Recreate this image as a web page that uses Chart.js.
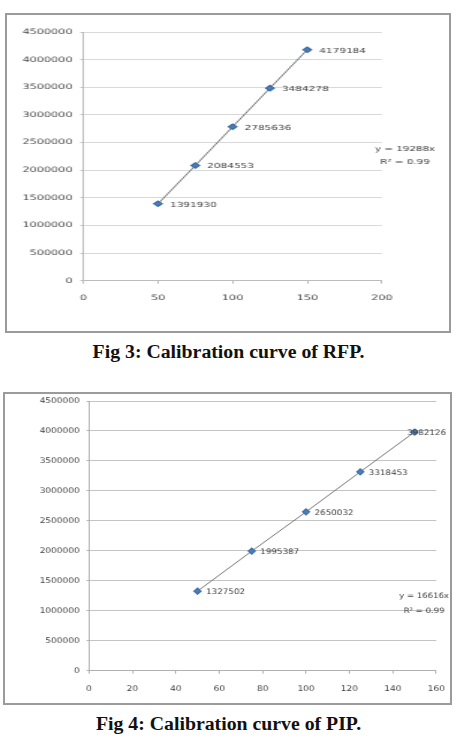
<!DOCTYPE html>
<html>
<head>
<meta charset="utf-8">
<script src="https://cdn.jsdelivr.net/npm/chart.js@4.4.0/dist/chart.umd.min.js"></script>
<style>
body { margin: 0; background: #fff; width: 457px; height: 739px; position: relative; overflow: hidden; }
.box { position: absolute; border: 2px solid #9b9b9b; box-sizing: border-box; }
canvas { position: absolute; left: 0; }
.cap { position: absolute; left: 0; width: 457px; text-align: center; line-height: 20px;
       font: bold 19.8px "Liberation Serif", "Times New Roman", serif; color: #111; }
</style>
</head>
<body>
<div class="box" style="left:5px;top:13px;width:446px;height:320px"></div>
<canvas id="rfpChart" width="305" height="335" style="top:0;width:457px;height:335px"></canvas>
<div class="cap" style="top:340px">Fig 3: Calibration curve of RFP.</div>

<div class="box" style="left:3px;top:392px;width:449px;height:313px"></div>
<canvas id="pipChart" width="397" height="330" style="top:380px;width:457px;height:330px"></canvas>
<div class="cap" style="top:712px">Fig 4: Calibration curve of PIP.</div>

<script>
// concentrations (x) and peak areas (y)
var conc = [50, 75, 100, 125, 150];
var rfpArea = [1391930, 2084553, 2785636, 3484278, 4179184];
var pipArea = [1327502, 1995387, 2650032, 3318453, 3982126];

var rfpXTicks = [0, 50, 100, 150, 200];
var pipXTicks = [0, 20, 40, 60, 80, 100, 120, 140, 160];
var areaTicks = [0, 500000, 1000000, 1500000, 2000000, 2500000, 3000000, 3500000, 4000000, 4500000];

var rfpEq = ['y = 19288x', 'R\u00b2 = 0.99'];
var pipEq = ['y = 16616x', 'R\u00b2 = 0.99'];

var FONT = '"DejaVu Sans", Verdana, sans-serif';

// value labels next to each point + trendline equation
var pointLabels = {
    id: 'pointLabels',
    afterDatasetsDraw: function (chart, args, opts) {
        var ctx = chart.ctx;
        var meta = chart.getDatasetMeta(0);
        var ds = chart.data.datasets[0];
        ctx.save();
        ctx.font = opts.size + 'px ' + FONT;
        ctx.fillStyle = opts.color;
        ctx.textBaseline = 'middle';
        ctx.textAlign = 'left';
        meta.data.forEach(function (pt, i) {
            var txt = String(ds.data[i].y);
            var w = ctx.measureText(txt).width;
            var x = pt.x + opts.dx;
            if (x + w > opts.maxRight)
                x = opts.maxRight - w;
            ctx.fillText(txt, x, pt.y + opts.dy);
        });
        ctx.textAlign = 'center';
        ctx.font = opts.eqSize + 'px ' + FONT;
        opts.eq.forEach(function (line, i) {
            ctx.fillText(line, opts.eqX, opts.eqY + i * opts.eqGap);
        });
        ctx.restore();
    }
};

function buildChart(id, xs, ys, xTicks, cfg) {
    var pts = xs.map(function (x, i) { return { x: x, y: ys[i] }; });
    return new Chart(document.getElementById(id), {
        type: 'scatter',
        data: {
            datasets: [{
                data: pts,
                showLine: true,
                borderColor: '#666',
                borderWidth: 0.9,
                pointStyle: 'rectRot',
                pointRadius: cfg.r,
                pointBorderWidth: 1.2,
                pointBackgroundColor: '#4a7ebb',
                pointBorderColor: '#3c6ca8'
            }]
        },
        options: {
            responsive: false,
            animation: false,
            events: [],
            layout: { padding: cfg.pad },
            plugins: {
                legend: { display: false },
                tooltip: { enabled: false },
                pointLabels: cfg.labels
            },
            scales: {
                x: {
                    type: 'linear',
                    min: xTicks[0],
                    max: xTicks[xTicks.length - 1],
                    afterBuildTicks: function (s) { s.ticks = xTicks.map(function (v) { return { value: v }; }); },
                    afterFit: function (s) { s.height = 30; },
                    grid: { drawOnChartArea: false, tickLength: 3, tickColor: cfg.axisColor },
                    border: { color: cfg.axisColor },
                    ticks: { padding: cfg.xPad, color: cfg.tickColor, font: { family: FONT, size: cfg.tickSize } }
                },
                y: {
                    min: 0,
                    max: 4500000,
                    afterBuildTicks: function (s) { s.ticks = areaTicks.map(function (v) { return { value: v }; }); },
                    afterFit: function (s) { s.width = cfg.yWidth; },
                    grid: { color: cfg.gridColor, tickLength: 2, tickColor: cfg.axisColor },
                    border: { color: cfg.axisColor },
                    ticks: {
                        padding: cfg.yPad, color: cfg.tickColor, font: { family: FONT, size: cfg.tickSize },
                        callback: function (v) { return String(v); }
                    }
                }
            }
        },
        plugins: [pointLabels]
    });
}

buildChart('rfpChart', conc, rfpArea, rfpXTicks, {
    r: 2.7,
    pad: { left: 0, right: 50.1, top: 32, bottom: 24.3 },
    yWidth: 55.6,
    xPad: 9.5,
    yPad: 5.2,
    tickSize: 7.5,
    tickColor: '#4a4a4a',
    axisColor: '#bcbcbc',
    gridColor: '#d9d9d9',
    labels: { size: 7, color: '#3f3f3f', dx: 8, dy: 1, maxRight: 298,
              eq: rfpEq, eqSize: 6.9, eqX: 270.3, eqY: 149, eqGap: 13 }
});

buildChart('pipChart', conc, pipArea, pipXTicks, {
    r: 3,
    pad: { left: 0, right: 17.8, top: 21, bottom: 9.3 },
    yWidth: 77.3,
    xPad: 10.6,
    yPad: 6.2,
    tickSize: 7.8,
    tickColor: '#3f3f3f',
    axisColor: '#b0b0b0',
    gridColor: '#c4c4c4',
    labels: { size: 7.6, color: '#3f3f3f', dx: 7.4, dy: 1, maxRight: 387.5,
              eq: pipEq, eqSize: 7.4, eqX: 368.4, eqY: 216, eqGap: 15 }
});
</script>
</body>
</html>
